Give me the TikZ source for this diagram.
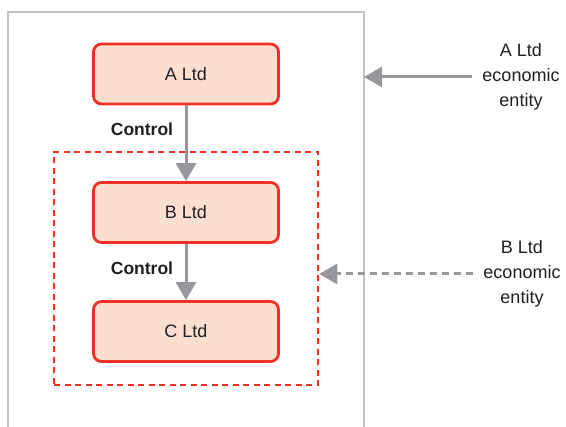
\documentclass[tikz,border=0pt]{standalone}
\usepackage{fontspec}
\setmainfont{Liberation Sans}
\usetikzlibrary{arrows.meta}
\definecolor{ltdred}{HTML}{EE3124}
\definecolor{ltdfill}{HTML}{FDDFD2}
\definecolor{arrgray}{HTML}{97989C}
\definecolor{framegray}{HTML}{C2C2C6}
\definecolor{txt}{HTML}{231F20}
\tikzset{
  ltdbox/.style={draw=ltdred,fill=ltdfill,line width=2.8pt,rounded corners=8pt,
    minimum width=185pt,minimum height=60pt,inner sep=0pt,text=txt,
    font=\fontsize{18}{20}\selectfont},
  ctrlarrow/.style={draw=arrgray,line width=3pt,
    -{Triangle[length=18pt,width=20pt]}},
  ctrllabel/.style={text=txt,inner sep=0pt,font=\fontsize{17.5}{20}\selectfont\bfseries},
  entitylabel/.style={text=txt,align=center,inner sep=10pt,
    font=\fontsize{18}{25}\selectfont},
}
\begin{document}
\begin{tikzpicture}[x=1pt,y=-1pt]
      \useasboundingbox (0,0) rectangle (566,427);%

      % outer frame (open at the bottom)
      \coordinate (F1) at (8,427);%
      \coordinate (F2) at (8,12);%
      \coordinate (F3) at (364,12);%
      \coordinate (F4) at (364,427);%
      \draw[framegray,line width=2.5pt] (F1) -- (F2) -- (F3) -- (F4);%

      % group of B and C
      \node[draw=ltdred,dashed,dash pattern=on 6pt off 4.5pt,line width=2.5pt,
        minimum width=264pt,minimum height=233pt,inner sep=0pt] (grp) at (186,268.5) {};%

      \node[ltdbox] (A) at (186,74) {A Ltd};%
      \node[ltdbox] (B) at (186,212.5) {B Ltd};%
      \node[ltdbox] (C) at (186,331.5) {C Ltd};%

      \node[ctrllabel] (CT1) at (142,129) {Control};%
      \node[ctrllabel] (CT2) at (142,268) {Control};%

      \node[entitylabel] (EA) at (521,77) {A Ltd\\economic\\entity};%
      \node[entitylabel] (EB) at (522,274) {B Ltd\\economic\\entity};%

      \draw[ctrlarrow] (A) -- (B);%
      \draw[ctrlarrow] (B) -- (C);%

      \draw[ctrlarrow] (EA.west) -- (EA.west -| F3);%
      \draw[ctrlarrow,dash pattern=on 7pt off 5pt] (EB.west) -- (EB.west -| grp.east);%
\end{tikzpicture}
\end{document}
